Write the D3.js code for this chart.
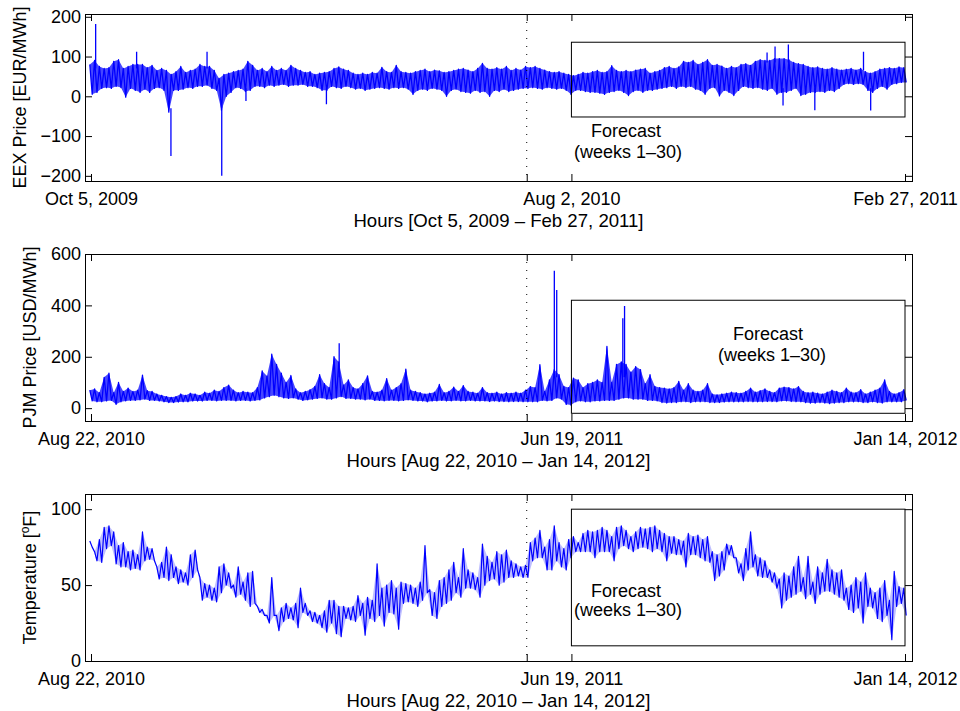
<!DOCTYPE html>
<html>
<head>
<meta charset="utf-8">
<script src="https://cdn.jsdelivr.net/npm/d3@7"></script>
<style>
  body { margin: 0; background: #fff; }
  text { font-family: "Liberation Sans", Arial, Helvetica, sans-serif; font-size: 18px; fill: #000; }
</style>
</head>
<body>
<svg id="chart" width="960" height="711"></svg>
<script>
// the thin isolated spikes are kept apart as [day, base, peak]

const eexHigh = [
    80, 90, 75, 70, 72, 88, 92, 70, 75, 80,
    80, 80, 72, 78, 65, 70, 65, 55, 62, 75,
    60, 65, 68, 80, 75, 75, 65, 45, 55, 58,
    62, 65, 68, 88, 78, 65, 70, 62, 75, 65,
    70, 65, 78, 70, 65, 60, 62, 55, 58, 60,
    62, 70, 74, 68, 65, 58, 55, 58, 55, 60,
    58, 73, 62, 60, 78, 62, 60, 58, 62, 65,
    68, 62, 66, 64, 60, 62, 65, 68, 70, 66,
    62, 70, 83, 70, 68, 72, 68, 75, 65, 70,
    66, 75, 72, 75, 70, 66, 62, 60, 62, 58,
    55, 52, 55, 60, 58, 62, 65, 60, 62, 77,
    65, 62, 65, 62, 66, 68, 70, 58, 62, 65,
    72, 75, 70, 74, 88, 85, 90, 80, 85, 92,
    78, 80, 76, 70, 75, 72, 80, 82, 78, 88,
    92, 90, 90, 95, 95, 95, 92, 85, 82, 80,
    75, 72, 74, 70, 68, 72, 68, 66, 68, 70,
    66, 70, 62, 58, 62, 68, 70, 72, 70, 74,
    72
];
const eexLow = [
    5, 10, 20, 22, 20, 25, 22, -2, 20, 15,
    10, 18, 10, 20, 22, 15, -40, 15, 15, 18,
    22, 20, 25, 25, 28, 20, 15, -35, 0, 10,
    22, 20, 12, 15, 25, 25, 22, 28, 25, 28,
    30, 25, 28, 28, 30, 25, 25, 22, 15, 15,
    25, 22, 20, 25, 22, 18, 20, 15, 18, 20,
    22, 20, 18, 22, 20, 22, 18, 5, 15, 18,
    15, 20, 18, 15, 0, 15, 18, 12, 10, 8,
    15, 10, 12, 0, 15, 12, 18, 12, 15, 18,
    20, 20, 22, 20, 18, 22, 20, 18, 20, 15,
    5, 15, 15, 12, 10, 10, 8, 5, 10, 12,
    15, 10, 2, 12, 15, 10, 15, 15, 18, 20,
    22, 25, 20, 25, 22, 25, 18, 15, 5, 20,
    22, 1, 15, 10, 2, 15, 25, 22, 20, 22,
    18, 15, 20, 5, 10, 10, 15, 20, 2, 5,
    10, 10, 12, 10, 15, 12, 20, 30, 32, 30,
    32, 30, 15, 10, 20, 25, 18, 30, 32, 35,
    35
];
const eexSpikes = [
    [2.9, 70, 182], [28.6, 70, 112], [50.1, -30, -150], [72.7, 70, 112],
    [81.9, -25, -200], [97.1, 20, -12], [147.5, 20, -20], [423.6, 85, 110],
    [428.6, 85, 125], [433.6, 20, -23], [436.9, 85, 130], [453.5, 20, -35],
    [484, 65, 112], [488.5, 20, -36]
];

const pjmHigh = [
    70, 75, 60, 120, 136, 60, 100, 65, 78, 65,
    70, 128, 68, 65, 55, 50, 45, 42, 45, 55,
    50, 58, 55, 50, 62, 58, 70, 65, 80, 90,
    70, 60, 65, 62, 60, 80, 145, 125, 210, 170,
    136, 100, 127, 75, 60, 65, 72, 85, 130, 95,
    80, 200, 180, 90, 110, 80, 75, 95, 126, 65,
    62, 70, 115, 70, 80, 95, 152, 70, 65, 60,
    55, 58, 62, 92, 60, 65, 82, 65, 88, 65,
    62, 58, 80, 60, 58, 62, 55, 60, 58, 62,
    58, 70, 84, 80, 169, 65, 110, 150, 130, 85,
    80, 117, 110, 80, 95, 100, 110, 100, 240, 100,
    170, 180, 170, 140, 162, 150, 95, 130, 85, 80,
    78, 75, 80, 104, 70, 95, 70, 65, 70, 95,
    55, 52, 55, 58, 62, 60, 58, 65, 78, 62,
    68, 75, 65, 60, 78, 82, 80, 75, 84, 65,
    60, 62, 58, 55, 62, 70, 65, 60, 78, 62,
    60, 72, 55, 62, 70, 78, 110, 65, 55, 60,
    72
];
const pjmLow = [
    28, 25, 25, 28, 30, 15, 25, 28, 30, 30,
    32, 35, 30, 30, 28, 25, 22, 22, 24, 25,
    25, 28, 28, 28, 30, 30, 28, 30, 30, 30,
    28, 30, 30, 28, 30, 32, 40, 45, 50, 45,
    40, 38, 40, 35, 30, 32, 35, 38, 40, 35,
    35, 40, 45, 38, 38, 35, 35, 32, 35, 30,
    30, 28, 30, 30, 28, 30, 32, 30, 28, 28,
    25, 28, 28, 30, 28, 28, 30, 28, 28, 30,
    28, 28, 28, 26, 28, 26, 26, 25, 26, 26,
    25, 25, 25, 25, 30, 28, 30, 40, 35, 15,
    12, 25, 28, 25, 25, 28, 28, 30, 30, 30,
    35, 40, 40, 35, 35, 35, 30, 30, 28, 22,
    20, 22, 22, 25, 25, 22, 25, 25, 25, 22,
    22, 22, 24, 25, 25, 25, 25, 26, 25, 25,
    25, 26, 26, 25, 28, 28, 26, 25, 25, 22,
    20, 20, 22, 20, 18, 20, 22, 22, 25, 25,
    25, 22, 22, 25, 22, 20, 25, 25, 25, 25,
    30
];
const pjmSpikes = [
    [155.5, 120, 253], [290.3, 120, 535], [291.8, 120, 460],
    [333.2, 120, 350], [334.3, 120, 398]
];

const tempHigh = [
    79, 72, 80, 88, 89, 85, 76, 78, 72, 73,
    70, 85, 75, 74, 62, 65, 75, 70, 62, 60,
    58, 70, 73, 55, 51, 50, 48, 62, 64, 58,
    50, 62, 52, 58, 59, 36, 34, 30, 55, 30,
    35, 38, 35, 38, 48, 38, 33, 32, 30, 33,
    40, 40, 36, 36, 35, 36, 43, 38, 42, 40,
    64, 48, 50, 53, 48, 52, 51, 50, 48, 52,
    76, 47, 45, 53, 55, 60, 65, 55, 74, 60,
    58, 55, 77, 69, 65, 72, 70, 73, 66, 64,
    62, 63, 78, 81, 86, 75, 80, 89, 78, 74,
    80, 82, 78, 84, 86, 85, 86, 88, 86, 82,
    88, 89, 86, 82, 85, 88, 87, 88, 89, 86,
    84, 82, 82, 80, 79, 84, 82, 83, 80, 82,
    72, 70, 72, 77, 76, 68, 64, 74, 85, 70,
    68, 66, 60, 58, 54, 58, 56, 62, 69, 55,
    69, 52, 62, 58, 67, 60, 58, 60, 48, 50,
    55, 52, 58, 48, 45, 48, 53, 40, 59, 49,
    48
];
const tempLow = [
    75, 66, 65, 74, 76, 64, 62, 62, 60, 61,
    60, 66, 67, 66, 54, 55, 53, 55, 51, 52,
    50, 55, 60, 40, 42, 40, 39, 45, 50, 48,
    42, 44, 40, 36, 38, 32, 30, 25, 30, 20,
    26, 28, 27, 22, 32, 30, 26, 25, 22, 19,
    25, 18, 16, 28, 27, 26, 30, 17, 28, 26,
    30, 23, 32, 31, 21, 38, 39, 38, 36, 40,
    45, 30, 28, 36, 38, 40, 45, 42, 48, 48,
    47, 42, 50, 53, 54, 50, 52, 55, 55, 56,
    55, 55, 66, 68, 68, 60, 60, 66, 62, 60,
    68, 72, 72, 72, 72, 68, 72, 72, 72, 66,
    74, 76, 74, 72, 74, 75, 74, 72, 74, 72,
    66, 71, 70, 70, 62, 70, 70, 68, 66, 65,
    53, 56, 60, 70, 68, 58, 53, 60, 62, 56,
    55, 55, 52, 48, 35, 40, 42, 44, 46, 41,
    44, 38, 44, 46, 46, 44, 42, 40, 34, 32,
    35, 25, 36, 35, 28, 26, 30, 14, 36, 38,
    30
];
const tempSpikes = [];

// ticks: first, end of calibration (dotted), forecast start, last
const eexTickDates = ['2009-10-05', '2010-07-05', '2010-08-02', '2011-02-27'];
const eexTickLabels = ['Oct 5, 2009', '', 'Aug 2, 2010', 'Feb 27, 2011'];
const pjmTickDates = ['2010-08-22', '2011-05-22', '2011-06-19', '2012-01-14'];
const pjmTickLabels = ['Aug 22, 2010', '', 'Jun 19, 2011', 'Jan 14, 2012'];

const eexYTicks = [-200, -100, 0, 100, 200];
const pjmYTicks = [0, 200, 400, 600];
const tempYTicks = [0, 50, 100];

const eexYDomain = [-213, 207];
const pjmYDomain = [-50, 600];
const tempYDomain = [0, 110];

// value range of the forecast frame
const eexForecastBand = [-52, 136];
const pjmForecastBand = [-20, 420];
const tempForecastBand = [10, 100];

const svg = d3.select('#chart');
const parseDay = d3.utcParse('%Y-%m-%d');
const boxLeft = 85;
const boxRight = 912;
const tickLen = 7;

const panels = [
    {
        hi: eexHigh, lo: eexLow, spikes: eexSpikes, ticks: eexTickDates, labels: eexTickLabels,
        yTicks: eexYTicks, yDomain: eexYDomain, band: eexForecastBand,
        top: 14, bottom: 181, yLabelX: 25.5, fillOpacity: 0.72, lineWidth: 1.3,
        yLabel: 'EEX Price [EUR/MWh]',
        xTitle: 'Hours [Oct 5, 2009 \u2013 Feb 27, 2011]',
        note: [[626, 137], [628, 158]]
    },
    {
        hi: pjmHigh, lo: pjmLow, spikes: pjmSpikes, ticks: pjmTickDates, labels: pjmTickLabels,
        yTicks: pjmYTicks, yDomain: pjmYDomain, band: pjmForecastBand,
        top: 254, bottom: 421, yLabelX: 36, fillOpacity: 0.72, lineWidth: 1.3,
        yLabel: 'PJM Price [USD/MWh]',
        xTitle: 'Hours [Aug 22, 2010 \u2013 Jan 14, 2012]',
        note: [[768, 340], [772, 360.5]]
    },
    {
        hi: tempHigh, lo: tempLow, spikes: tempSpikes, ticks: pjmTickDates, labels: pjmTickLabels,
        yTicks: tempYTicks, yDomain: tempYDomain, band: tempForecastBand,
        top: 494, bottom: 661, yLabelX: 36, fillOpacity: 0.25, lineWidth: 1.2,
        yLabel: null,
        xTitle: 'Hours [Aug 22, 2010 \u2013 Jan 14, 2012]',
        note: [[626, 596.5], [628, 615.5]]
    }
];

function styleAxis(a) {
    a.select('.domain').remove();
    a.attr('font-size', null).attr('font-family', null);
    a.selectAll('line').attr('stroke', '#000');
}

function drawPanel(p, idx) {
    const g = svg.append('g');
    const tickDates = p.ticks.map(parseDay);
    const t0 = tickDates[0];

    const x = d3.scaleUtc()
        .domain([tickDates[0], tickDates[3]])
        .range([boxLeft + 6, boxRight - 7]);
    const y = d3.scaleLinear()
        .domain(p.yDomain)
        .range([p.bottom, p.top]);

    // high a bit before each sample day, low a bit after
    const samples = p.hi.map((h, i) => {
        const day = d3.utcDay.offset(t0, 3 * i);
        return {
            tHi: d3.utcHour.offset(day, -18), hi: h,
            tLo: d3.utcHour.offset(day, 18), lo: p.lo[i]
        };
    });
    const pts = samples.flatMap(s => [{t: s.tHi, v: s.hi}, {t: s.tLo, v: s.lo}]);

    const clipId = 'clip' + idx;
    g.append('clipPath').attr('id', clipId)
        .append('rect')
        .attr('x', boxLeft + 0.5)
        .attr('y', p.top + 0.5)
        .attr('width', boxRight - boxLeft)
        .attr('height', p.bottom - p.top);

    const plot = g.append('g').attr('clip-path', `url(#${clipId})`);

    const area = d3.area()
        .x0(d => x(d.tLo)).y0(d => y(d.lo))
        .x1(d => x(d.tHi)).y1(d => y(d.hi));

    plot.append('path')
        .datum(samples)
        .attr('fill', '#0000ff')
        .attr('fill-opacity', p.fillOpacity)
        .attr('d', area);

    const line = d3.line()
        .x(d => x(d.t))
        .y(d => y(d.v));

    plot.append('path')
        .datum(pts)
        .attr('fill', 'none')
        .attr('stroke', '#0000ff')
        .attr('stroke-width', p.lineWidth)
        .attr('stroke-linejoin', 'round')
        .attr('d', line);

    plot.selectAll('.spike')
        .data(p.spikes)
        .enter()
        .append('line')
        .attr('class', 'spike')
        .attr('x1', d => x(d3.utcHour.offset(t0, Math.round(d[0] * 24))))
        .attr('x2', d => x(d3.utcHour.offset(t0, Math.round(d[0] * 24))))
        .attr('y1', d => y(d[1]))
        .attr('y2', d => y(d[2]))
        .attr('stroke', '#0000ff')
        .attr('stroke-width', 1.3);

    // end of calibration window
    g.append('line')
        .attr('x1', x(tickDates[1]))
        .attr('x2', x(tickDates[1]))
        .attr('y1', p.top)
        .attr('y2', p.bottom)
        .attr('stroke', '#000')
        .attr('stroke-width', 1)
        .attr('stroke-dasharray', '1,7');

    // forecast frame
    g.append('rect')
        .attr('x', x(tickDates[2]))
        .attr('y', y(p.band[1]))
        .attr('width', x(tickDates[3]) - x(tickDates[2]))
        .attr('height', y(p.band[0]) - y(p.band[1]))
        .attr('fill', 'none')
        .attr('stroke', '#000')
        .attr('stroke-width', 1);

    g.append('text').attr('x', p.note[0][0]).attr('y', p.note[0][1])
        .attr('text-anchor', 'middle').text('Forecast');
    g.append('text').attr('x', p.note[1][0]).attr('y', p.note[1][1])
        .attr('text-anchor', 'middle').text('(weeks 1\u201330)');

    // axes, MATLAB style ticks pointing inward on all four sides
    g.append('g')
        .attr('transform', `translate(0,${p.bottom})`)
        .call(d3.axisBottom(x).tickValues(tickDates)
            .tickSizeInner(-tickLen).tickSizeOuter(0).tickPadding(11)
            .tickFormat((d, i) => p.labels[i]))
        .call(styleAxis);

    g.append('g')
        .attr('transform', `translate(0,${p.top})`)
        .call(d3.axisTop(x).tickValues(tickDates)
            .tickSizeInner(-tickLen).tickSizeOuter(0).tickFormat(''))
        .call(styleAxis);

    g.append('g')
        .attr('transform', `translate(${boxLeft},0)`)
        .call(d3.axisLeft(y).tickValues(p.yTicks)
            .tickSizeInner(-tickLen).tickSizeOuter(0).tickPadding(4)
            .tickFormat(d3.format('d')))
        .call(styleAxis);

    g.append('g')
        .attr('transform', `translate(${boxRight},0)`)
        .call(d3.axisRight(y).tickValues(p.yTicks)
            .tickSizeInner(-tickLen).tickSizeOuter(0).tickFormat(''))
        .call(styleAxis);

    g.append('rect')
        .attr('x', boxLeft + 0.5)
        .attr('y', p.top + 0.5)
        .attr('width', boxRight - boxLeft)
        .attr('height', p.bottom - p.top)
        .attr('fill', 'none')
        .attr('stroke', '#000')
        .attr('stroke-width', 1);

    // axis titles
    g.append('text')
        .attr('x', (boxLeft + boxRight) / 2)
        .attr('y', p.bottom + 46)
        .attr('text-anchor', 'middle')
        .style('font-size', '18.6px')
        .text(p.xTitle);

    const yl = g.append('text')
        .attr('transform', `translate(${p.yLabelX},${(p.top + p.bottom) / 2}) rotate(-90)`)
        .attr('text-anchor', 'middle');
    if (p.yLabel) {
        yl.text(p.yLabel);
    } else {
        yl.append('tspan').text('Temperature [');
        yl.append('tspan').attr('dy', -7).style('font-size', '12px').text('o');
        yl.append('tspan').attr('dy', 7).text('F]');
    }
}

panels.forEach(drawPanel);
</script>
</body>
</html>
